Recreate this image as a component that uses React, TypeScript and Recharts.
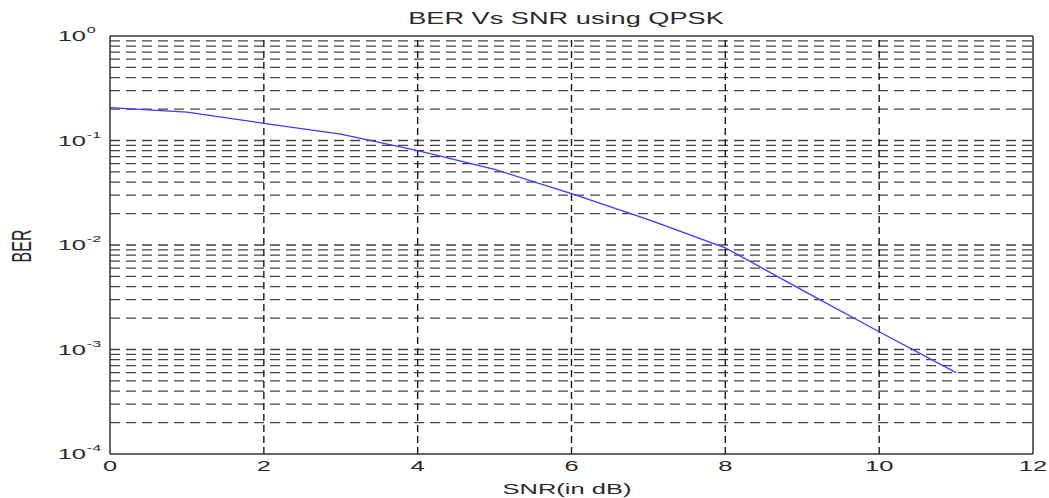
import React from "react";
import {
  LineChart,
  Line,
  XAxis,
  YAxis,
  ReferenceLine,
  Customized,
} from "recharts";

const snrDb = [0, 1, 2, 3, 4, 5, 6, 7, 8, 9, 10, 11];
const berValues = [0.206, 0.187, 0.146, 0.115, 0.08, 0.053, 0.031, 0.0175, 0.0094, 0.0037, 0.00148, 0.0006];
const xTicks = [0, 2, 4, 6, 8, 10, 12];
const yTicks = [1e-4, 1e-3, 1e-2, 1e-1, 1];
const yExponents = ["-4", "-3", "-2", "-1", "0"];
const minorMultipliers = [1, 2, 3, 4, 5, 6, 7, 8, 9];
const decadeExps = [-4, -3, -2, -1];
const title = "BER Vs SNR using QPSK";
const xLabel = "SNR(in dB)";
const yLabel = "BER";

const data = snrDb.map((x, i) => ({ snr: x, ber: berValues[i] }));
const minorGrid: number[] = [];
decadeExps.forEach((e) =>
  minorMultipliers.forEach((m) => {
    const v = m * Math.pow(10, e);
    if (v > 1e-4 && v < 1) minorGrid.push(v);
  })
);

const FONT = "'Liberation Sans', Arial, Helvetica, sans-serif";
const SX = 1.7;
const TXT = "#2a2a2a";

const XTick = (props: any) => {
  const { x, payload } = props;
  return (
    <g transform={`translate(${x},471) scale(${SX},1)`}>
      <text x={0} y={0} textAnchor="middle" fontFamily={FONT} fontSize={15} fill={TXT}>
        {payload.value}
      </text>
    </g>
  );
};

const YTick = (props: any) => {
  const { y, payload } = props;
  const idx = yTicks.indexOf(payload.value);
  const exp = idx >= 0 ? yExponents[idx] : "";
  return (
    <g transform={`translate(86,${y + 5}) scale(${SX},1)`}>
      <text x={0} y={0} textAnchor="end" fontFamily={FONT} fontSize={15} fill={TXT}>
        10
      </text>
      <text x={0.5} y={-8} textAnchor="start" fontFamily={FONT} fontSize={9.5} fill={TXT}>
        {exp}
      </text>
    </g>
  );
};

const Texts = () => (
  <g>
    <g transform={`translate(566,24) scale(${SX},1)`}>
      <text x={0} y={0} textAnchor="middle" fontFamily={FONT} fontSize={16} fill={TXT}>
        {title}
      </text>
    </g>
    <g transform={`translate(567,494) scale(${SX},1)`}>
      <text x={0} y={0} textAnchor="middle" fontFamily={FONT} fontSize={15} fill={TXT}>
        {xLabel}
      </text>
    </g>
    <g transform={`translate(22,246) rotate(-90) scale(1,${SX})`}>
      <text x={0} y={5.5} textAnchor="middle" fontFamily={FONT} fontSize={16} fill={TXT}>
        {yLabel}
      </text>
    </g>
  </g>
);

export default function App() {
  return (
    <div style={{ position: "absolute", left: 0, top: 0, width: 1049, height: 498, background: "#fff" }}>
      <LineChart
        width={1049}
        height={498}
        data={data}
        margin={{ top: 36, right: 16, bottom: 14, left: 10 }}
      >
        <XAxis
          dataKey="snr"
          type="number"
          domain={[0, 12]}
          ticks={xTicks}
          interval={0}
          height={30}
          tickLine={false}
          axisLine={{ stroke: "#333", strokeWidth: 1.5 }}
          tick={<XTick />}
        />
        <YAxis
          dataKey="ber"
          type="number"
          scale="log"
          domain={[1e-4, 1]}
          allowDataOverflow
          ticks={yTicks}
          interval={0}
          width={100}
          tickLine={false}
          axisLine={{ stroke: "#333", strokeWidth: 1.5 }}
          tick={<YTick />}
        />
        {minorGrid.map((v) => (
          <ReferenceLine
            key={"h" + v}
            y={v}
            stroke="#444"
            strokeWidth={1.3}
            strokeDasharray="10 6"
          />
        ))}
        {xTicks.slice(1, -1).map((v) => (
          <ReferenceLine key={"v" + v} x={v} stroke="#1a1a1a" strokeWidth={1.4} strokeDasharray="7 4" />
        ))}
        <ReferenceLine y={1} stroke="#333" strokeWidth={1.5} />
        <ReferenceLine x={12} stroke="#333" strokeWidth={1.5} />
        <Line
          type="linear"
          dataKey="ber"
          stroke="#3a3aff"
          strokeWidth={1.3}
          dot={false}
          isAnimationActive={false}
        />
        <Customized component={Texts} />
      </LineChart>
    </div>
  );
}
